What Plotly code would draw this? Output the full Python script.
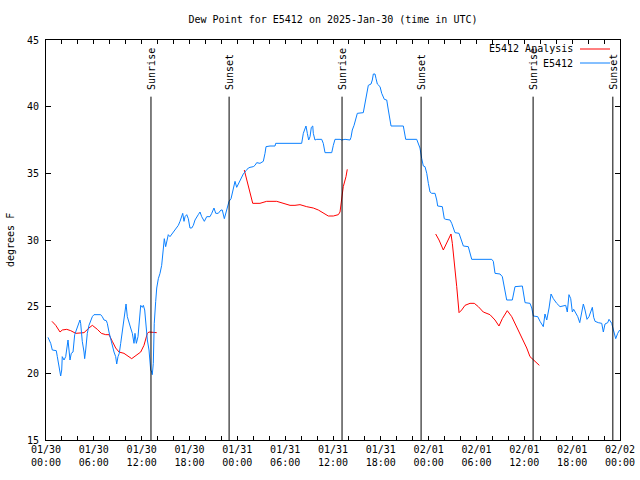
import plotly.graph_objects as go
import pandas as pd

START = pd.Timestamp("2025-01-30 00:00")

# E5412 observations: hours since 2025-01-30 00:00 UTC, dew point (F)
obs_hours = [0.25, 0.59, 0.79, 1.29, 1.42, 1.63, 1.84, 1.97, 2.04, 2.26, 2.47, 2.76, 2.89, 3.01, 3.17, 3.39,
             3.60, 3.73, 3.93, 4.14, 4.26, 4.35, 4.55, 4.77, 4.85, 4.98, 5.18, 5.39, 5.61, 5.81, 6.02, 6.86,
             7.06, 7.28, 7.56, 7.69, 7.90, 8.12, 8.32, 8.53, 8.74, 8.87, 9.03, 9.19, 9.37, 9.57, 9.78, 9.91,
             10.04, 10.20, 10.41, 10.62, 10.83, 10.95, 11.04, 11.16, 11.33, 11.54, 11.67, 11.75, 11.88, 12.08,
             12.21, 12.38, 12.51, 12.71, 12.92, 13.05, 13.13, 13.26, 13.33, 13.46, 13.58, 13.76, 13.89, 14.09,
             14.30, 14.51, 14.71, 14.84, 15.01, 15.18, 15.34, 15.55, 15.97, 16.39, 16.60, 16.81, 17.02, 17.15,
             17.31, 17.44, 17.65, 17.85, 18.06, 18.28, 18.48, 18.69, 19.10, 19.32, 19.53, 19.86, 20.16, 20.57,
             20.79, 21.07, 21.29, 21.61, 21.95, 22.11, 22.37, 22.58, 22.79, 22.96, 23.21, 23.49, 23.71, 23.92,
             24.34, 24.75, 25.09, 25.38, 25.59, 26.00, 26.22, 26.43, 26.84, 27.26, 27.47, 27.60, 28.10, 28.73,
             28.81, 29.35, 32.07, 32.28, 32.49, 32.61, 32.78, 32.95, 33.12, 33.28, 33.46, 33.53, 33.74, 33.96,
             34.58, 34.78, 35.00, 35.84, 36.04, 36.25, 36.88, 37.09, 37.51, 38.13, 38.26, 38.42, 38.64, 38.85,
             39.05, 39.80, 40.01, 40.23, 40.43, 40.77, 40.93, 41.06, 41.27, 41.40, 41.56, 41.90, 42.11, 42.44,
             42.74, 42.94, 43.15, 43.28, 44.82, 44.94, 45.12, 46.50, 46.91, 47.13, 47.33, 47.54, 47.76, 47.96,
             48.17, 48.38, 48.80, 49.01, 49.13, 49.71, 49.96, 50.14, 50.68, 50.89, 51.09, 51.30, 51.81, 52.06,
             52.35, 52.97, 53.19, 53.40, 55.91, 56.11, 56.32, 56.95, 57.24, 57.49, 57.79, 58.49, 58.83, 59.75,
             59.87, 60.09, 60.71, 60.93, 61.13, 61.68, 61.97, 62.38, 62.59, 62.81, 63.10, 63.35, 63.64, 64.06,
             64.48, 64.89, 65.19, 65.39, 65.60, 65.82, 66.02, 66.19, 66.36, 66.70, 66.95, 67.20, 67.40, 67.61,
             67.86, 68.11, 68.36, 68.53, 68.70, 68.87, 69.28, 69.71, 69.91, 70.12, 70.46, 70.62, 70.96, 71.16,
             71.46, 71.71, 71.96]
obs_dewpt = [22.7, 22.25, 21.75, 21.7, 21.25, 20.5, 19.8, 20.25, 21.25, 21.0, 21.25, 22.5, 21.75, 21.0, 21.5, 21.6,
             22.9, 23.1, 23.5, 23.75, 24.0, 23.75, 22.4, 21.6, 21.1, 21.75, 23.0, 23.6, 24.0, 24.25, 24.4, 24.4,
             24.25, 24.0, 23.95, 23.75, 23.1, 22.5, 22.0, 21.6, 21.25, 20.7, 21.25, 21.5, 22.25, 23.25, 24.25, 24.9,
             25.2, 24.25, 23.9, 23.4, 23.0, 22.5, 22.25, 23.0, 22.25, 22.75, 23.5, 24.25, 25.1, 24.95,
             25.1, 24.75, 23.75, 22.5, 21.75, 21.0, 20.25, 20.1, 19.9, 20.75, 23.75, 25.4, 26.4, 27.1,
             27.5, 28.1, 29.6, 30.1, 29.5, 30.05, 30.4, 30.25, 30.6, 31.0, 31.1, 31.4, 31.9, 32.0,
             31.4, 31.75, 31.9, 31.6, 30.9, 30.9, 31.1, 31.5, 31.9, 32.1, 31.75, 31.4, 31.75, 31.75,
             32.0, 32.4, 32.0, 32.0, 32.25, 32.25, 31.6, 32.0, 32.5, 32.9, 33.1, 34.0, 34.4, 33.95,
             34.5, 34.95, 35.2, 35.4, 35.45, 35.5, 35.6, 35.8, 35.75, 35.9, 36.5, 37.0, 37.05, 37.05,
             37.25, 37.25, 37.25, 38.0, 38.45, 38.55, 38.0, 37.5, 37.75, 38.45, 38.55, 38.0, 37.5, 37.55,
             37.55, 37.25, 36.55, 36.55, 37.1, 37.55, 37.55, 37.5, 37.55, 37.5, 37.7, 38.25, 38.6, 39.0,
             39.5, 39.55, 40.25, 41.25, 41.6, 41.7, 42.0, 42.45, 42.45, 42.1, 41.7, 41.5, 41.0, 40.55,
             40.5, 39.75, 39.0, 38.55, 38.55, 38.1, 37.55, 37.55, 36.9, 36.1, 35.55, 35.5, 35.0, 34.25,
             33.6, 33.5, 33.5, 33.0, 32.55, 32.5, 31.6, 31.55, 31.5, 31.25, 30.9, 30.55, 30.5, 30.0,
             29.55, 29.5, 28.9, 28.55, 28.55, 28.4, 27.5, 27.45, 27.25, 26.5, 25.5, 25.5, 26.5, 26.55,
             26.0, 25.3, 25.25, 24.9, 24.3, 24.25, 23.9, 23.5, 24.45, 24.0, 24.9, 25.95, 25.6, 25.25,
             25.0, 25.05, 25.1, 24.6, 25.9, 25.6, 24.6, 24.8, 24.6, 24.25, 23.8, 24.5, 25.2, 24.75,
             24.05, 24.25, 24.7, 24.95, 24.2, 23.9, 23.8, 23.75, 23.1, 23.7, 23.8, 24.05, 23.75, 23.3,
             22.6, 23.0, 23.25]

# E5412 Analysis (None marks gaps)
ana_hours = [0.75, 1.22, 1.76, 2.04, 2.60, 3.10, 3.73, 4.26, 4.77, 5.39, 5.81, 6.44, 6.94, 7.49, 7.90, 8.32,
             8.74, 9.16, 9.78, 10.75, 11.25, 11.88, 12.29, 12.71, 12.92, 13.33, 13.89, 19.0,
             24.87, 25.17, 25.59, 25.93, 26.84, 27.68, 28.94, 29.77, 30.61, 31.23, 31.86, 32.70, 33.53, 34.16,
             34.78, 35.41, 36.04, 36.67, 36.88, 37.09, 37.29, 37.63, 37.79, 43.0,
             48.88, 49.30, 49.84, 50.34, 50.80, 50.97, 51.30, 51.52, 51.81, 52.14, 52.56, 53.19, 53.72, 54.23,
             54.85, 55.69, 56.32, 56.82, 57.24, 57.86, 58.42, 59.04, 59.67, 60.30, 60.71, 61.13, 61.88]
ana_dewpt = [23.9, 23.6, 23.1, 23.25, 23.3, 23.2, 23.0, 23.0, 23.05, 23.4, 23.6, 23.3, 23.0, 22.9, 22.9, 22.4,
             21.9, 21.6, 21.5, 21.1, 21.3, 21.6, 22.1, 23.0, 23.1, 23.1, 23.05, None,
             35.25, 34.5, 33.5, 32.75, 32.75, 32.9, 32.9, 32.75, 32.6, 32.6, 32.65, 32.5, 32.4, 32.25,
             32.0, 31.8, 31.8, 31.9, 32.1, 33.0, 34.0, 34.75, 35.3, None,
             30.45, 30.0, 29.25, 29.9, 30.45, 29.75, 28.0, 26.5, 24.55, 24.75, 25.1, 25.25, 25.25, 25.0,
             24.6, 24.4, 24.0, 23.55, 24.1, 24.7, 24.25, 23.5, 22.75, 21.9, 21.25, 21.0, 20.6]

sun_times = ["2025-01-30 13:10", "2025-01-30 22:58", "2025-01-31 13:08",
             "2025-01-31 23:03", "2025-02-01 13:06", "2025-02-01 23:06"]
sun_labels = ["Sunrise", "Sunset", "Sunrise", "Sunset", "Sunrise", "Sunset"]

y_ticks = [15, 20, 25, 30, 35, 40, 45]

to_time = lambda hs: [START + pd.Timedelta(hours=h) for h in hs]

FONT = "DejaVu Sans Mono"
RED = "#ff0000"
BLUE = "#0a80ff"
L, R, T, B = 46, 20, 40, 40
PW, PH = 640 - L - R, 480 - T - B

fig = go.Figure()
fig.add_trace(go.Scatter(x=to_time(ana_hours), y=ana_dewpt, mode="lines", name="E5412 Analysis",
                         line=dict(color=RED, width=1), connectgaps=False, showlegend=False))
fig.add_trace(go.Scatter(x=to_time(obs_hours), y=obs_dewpt, mode="lines", name="E5412",
                         line=dict(color=BLUE, width=1), showlegend=False))

for t, lab in zip(sun_times, sun_labels):
    fig.add_shape(type="line", xref="x", yref="y", x0=t, x1=t, y0=15, y1=40.75,
                  line=dict(color="black", width=1))
    fig.add_annotation(x=t, y=41.1, xref="x", yref="y", text=lab, textangle=-90, showarrow=False,
                       xanchor="center", yanchor="bottom", font=dict(family=FONT, size=10, color="black"))

# legend drawn gnuplot-style (text right-aligned, sample to the right)
for i, (name, col) in enumerate([("E5412 Analysis", RED), ("E5412", BLUE)]):
    ypix = 49 + 14 * i
    yp = 1 - (ypix - T) / PH
    fig.add_annotation(x=(575 - L) / PW, y=yp, xref="paper", yref="paper", text=name, showarrow=False,
                       xanchor="right", yanchor="middle", font=dict(family=FONT, size=10, color="black"))
    fig.add_shape(type="line", xref="paper", yref="paper", x0=(580 - L) / PW, x1=(610 - L) / PW,
                  y0=yp, y1=yp, line=dict(color=col, width=1))

# y-axis title
fig.add_annotation(x=(10 - L) / PW, y=0.5, xref="paper", yref="paper", text="degrees F", textangle=-90,
                   showarrow=False, xanchor="center", yanchor="middle",
                   font=dict(family=FONT, size=10, color="black"))

fig.update_layout(
    width=640, height=480,
    margin=dict(l=L, r=R, t=T, b=B, autoexpand=False),
    paper_bgcolor="white", plot_bgcolor="white",
    font=dict(family=FONT, size=10, color="black"),
    title=dict(text="Dew Point for E5412 on 2025-Jan-30 (time in UTC)", x=333 / 640, xanchor="center",
               y=1 - 19 / 480, yanchor="middle", font=dict(family=FONT, size=10)),
)
fig.update_xaxes(type="date", range=["2025-01-30 00:00", "2025-02-02 00:00"], automargin=False,
                 tickformat="%m/%d<br>%H:%M", dtick=6 * 3600 * 1000, tick0="2025-01-30 00:00",
                 ticks="inside", ticklen=4, tickcolor="black", showline=True, linecolor="black",
                 linewidth=1, mirror="ticks", showgrid=False, zeroline=False,
                 minor=dict(dtick=2 * 3600 * 1000, ticks="inside", ticklen=4, tickcolor="black", showgrid=False),
                 tickfont=dict(family=FONT, size=10))
fig.update_yaxes(range=[15, 45], tickvals=y_ticks, ticks="inside", ticklen=5, tickcolor="black",
                 showline=True, linecolor="black", linewidth=1, mirror="ticks", showgrid=False,
                 zeroline=False, automargin=False, ticklabelstandoff=4,
                 tickfont=dict(family=FONT, size=10))

fig.write_html("out.html", config={"displayModeBar": False},
               post_script="document.body.style.margin='0px';document.body.style.overflow='hidden';")
